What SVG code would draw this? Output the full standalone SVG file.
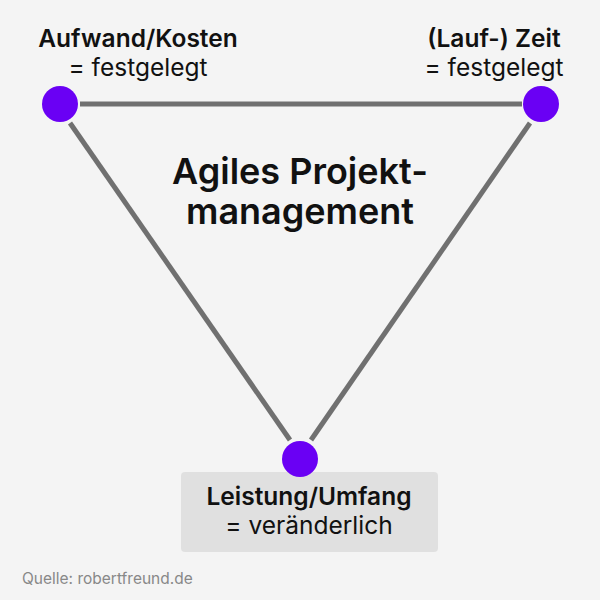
<svg xmlns="http://www.w3.org/2000/svg" width="600" height="600" viewBox="0 0 600 600">
<style>
.t{font-family:Inter,"Liberation Sans",sans-serif;fill:#111;text-anchor:middle}
.b{font-weight:600;font-size:24.5px}
.r{font-size:24.5px}
.n{fill:#6a00f4}
.c{stroke:#707070;stroke-width:5;fill:none}
</style>
<rect width="600" height="600" fill="#f4f4f4"/>
<g id="connectors">
<line class="c" x1="80" y1="104" x2="522" y2="104"/>
<line class="c" x1="70" y1="123" x2="290" y2="440"/>
<line class="c" x1="530" y1="123" x2="311" y2="440"/>
</g>
<g id="title">
<text class="t" x="300" y="184" style="font-weight:600;font-size:36px">Agiles Projekt-</text>
<text class="t" x="300" y="224" style="font-weight:600;font-size:36px">management</text>
</g>
<g id="kosten">
<circle class="n" cx="60" cy="104" r="18"/>
<text class="t b" x="138" y="47">Aufwand/Kosten</text>
<text class="t r" x="138" y="76">= festgelegt</text>
</g>
<g id="zeit">
<circle class="n" cx="541" cy="104" r="18"/>
<text class="t b" x="494" y="47">(Lauf-) Zeit</text>
<text class="t r" x="494" y="76">= festgelegt</text>
</g>
<g id="leistung">
<rect x="181" y="472" width="257" height="80" rx="4" fill="#e0e0e0"/>
<circle class="n" cx="300" cy="459" r="18"/>
<text class="t b" x="309" y="505">Leistung/Umfang</text>
<text class="t r" x="309" y="534">= veränderlich</text>
</g>
<text x="22" y="584" style="font-family:Inter,'Liberation Sans',sans-serif;font-size:15.5px;fill:#888">Quelle: robertfreund.de</text>
</svg>
